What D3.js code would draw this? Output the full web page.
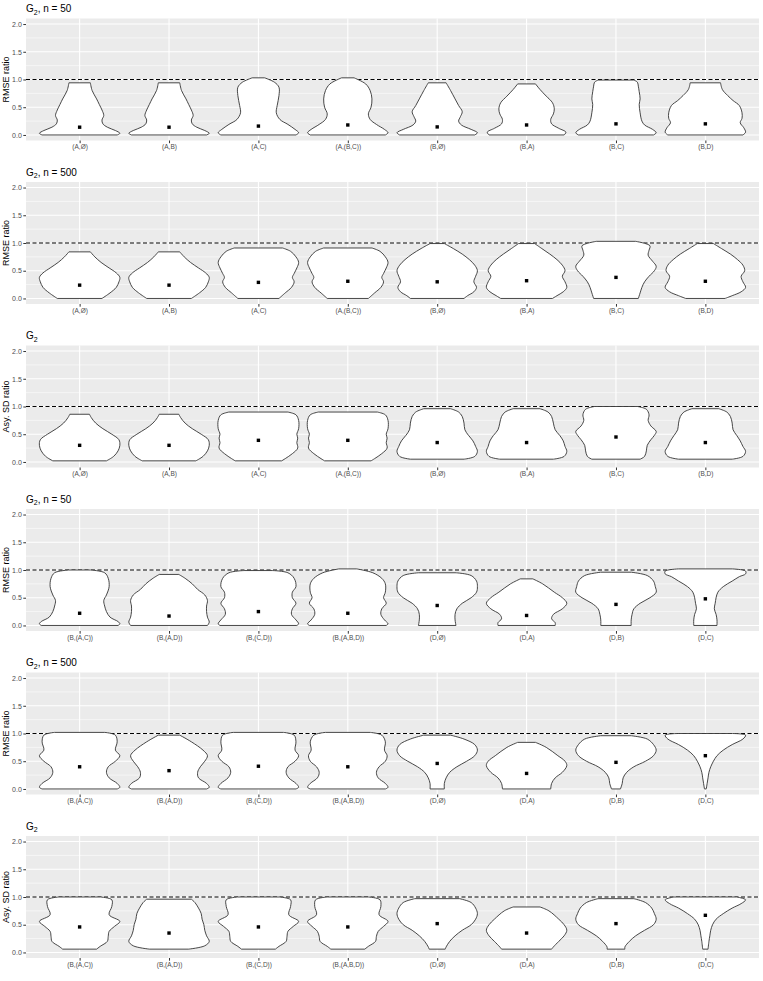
<!DOCTYPE html>
<meta charset="utf-8">
<style>
body { margin: 0; background: #fff; }
svg { font-family: "Liberation Sans", Arial, sans-serif; }
.axis path.domain { display: none; }
.axis line { stroke: #333333; }
.axis text { fill: #4d4d4d; }
.violin { fill: #fff; stroke: #333333; stroke-width: 0.9; }
</style>
<body>
<script src="https://cdn.jsdelivr.net/npm/d3@7"></script>
<script>
// categories on the two x axes
var catsA = ["(A,Ø)", "(A,B)", "(A,C)", "(A,(B,C))", "(B,Ø)", "(B,A)", "(B,C)", "(B,D)"];
var catsB = ["(B,(A,C))", "(B,(A,D))", "(B,(C,D))", "(B,(A,B,D))", "(D,Ø)", "(D,A)", "(D,B)", "(D,C)"];

// panel titles (subscript handled separately) and y titles
var titleRest = [", n = 50", ", n = 500", "", ", n = 50", ", n = 500", ""];
var yTitles = ["RMSE ratio", "RMSE ratio", "Asy. SD ratio", "RMSE ratio", "RMSE ratio", "Asy. SD ratio"];
var yTicks = [0, 0.5, 1, 1.5, 2];

// violin outlines: [value, half width in category units], one list per category
var shapes1 = [
  [[0,.42],[.03,.45],[.08,.40],[.14,.31],[.2,.26],[.27,.25],[.35,.27],[.45,.25],[.55,.22],[.65,.19],[.8,.14],[.94,.12]],
  [[0,.42],[.03,.45],[.08,.40],[.14,.31],[.2,.26],[.27,.25],[.35,.27],[.45,.25],[.55,.22],[.65,.19],[.8,.14],[.94,.12]],
  [[0,.42],[.04,.45],[.1,.41],[.19,.33],[.28,.24],[.4,.2],[.53,.21],[.71,.23],[.86,.23],[.95,.18],[1.03,.07]],
  [[0,.42],[.04,.45],[.1,.41],[.19,.32],[.28,.25],[.38,.23],[.5,.26],[.65,.27],[.8,.25],[.92,.2],[1.03,.07]],
  [[0,.42],[.04,.45],[.1,.38],[.18,.27],[.25,.24],[.33,.26],[.42,.28],[.53,.24],[.65,.2],[.8,.15],[.94,.1]],
  [[0,.42],[.05,.44],[.12,.36],[.2,.28],[.28,.27],[.38,.3],[.47,.31],[.58,.29],[.7,.22],[.82,.15],[.92,.1]],
  [[0,.42],[.04,.45],[.1,.41],[.18,.32],[.25,.29],[.4,.27],[.55,.26],[.65,.27],[.78,.26],[.88,.25],[.95,.24],[.99,.2]],
  [[0,.42],[.05,.45],[.13,.43],[.22,.39],[.3,.41],[.4,.41],[.53,.38],[.62,.31],[.71,.25],[.82,.19],[.94,.17]]
];
var means1 = [.14, .14, .16, .18, .145, .18, .2, .2];

var shapes2 = [
  [[0,.25],[.1,.34],[.2,.41],[.3,.44],[.38,.45],[.46,.41],[.55,.33],[.65,.24],[.75,.17],[.84,.12]],
  [[0,.25],[.1,.34],[.2,.41],[.3,.44],[.38,.45],[.46,.41],[.55,.33],[.65,.24],[.75,.17],[.84,.12]],
  [[0,.23],[.1,.3],[.2,.37],[.3,.4],[.38,.38],[.45,.4],[.55,.43],[.65,.45],[.75,.42],[.85,.36],[.91,.27]],
  [[0,.23],[.1,.3],[.2,.37],[.3,.4],[.38,.38],[.45,.4],[.55,.43],[.65,.45],[.75,.42],[.85,.36],[.91,.27]],
  [[0,.3],[.05,.34],[.12,.41],[.2,.44],[.3,.41],[.4,.43],[.5,.45],[.6,.42],[.7,.36],[.8,.28],[.9,.18],[.99,.08]],
  [[0,.29],[.05,.34],[.12,.41],[.2,.45],[.3,.43],[.4,.4],[.5,.43],[.6,.4],[.7,.34],[.8,.26],[.9,.17],[.99,.09]],
  [[0,.25],[.1,.27],[.2,.29],[.3,.32],[.4,.37],[.5,.43],[.58,.45],[.67,.41],[.78,.36],[.87,.37],[.95,.38],[1.03,.22]],
  [[0,.22],[.05,.3],[.12,.4],[.2,.45],[.3,.42],[.4,.4],[.5,.44],[.6,.42],[.7,.36],[.8,.28],[.9,.18],[.99,.09]]
];
var means2 = [.24, .24, .29, .31, .3, .32, .38, .31];

var shapes3 = [
  [[.02,.3],[.1,.38],[.2,.43],[.3,.45],[.4,.44],[.5,.36],[.6,.26],[.7,.18],[.8,.13],[.86,.11]],
  [[.02,.3],[.1,.38],[.2,.43],[.3,.45],[.4,.44],[.5,.36],[.6,.26],[.7,.18],[.8,.13],[.86,.11]],
  [[.02,.26],[.06,.3],[.15,.38],[.25,.44],[.35,.43],[.43,.44],[.5,.43],[.6,.45],[.75,.45],[.85,.42],[.9,.33]],
  [[.02,.26],[.06,.3],[.15,.38],[.25,.44],[.35,.43],[.43,.44],[.5,.43],[.6,.45],[.75,.45],[.85,.42],[.9,.33]],
  [[.05,.3],[.1,.42],[.19,.45],[.28,.43],[.38,.4],[.48,.35],[.58,.31],[.7,.3],[.82,.28],[.9,.24],[.96,.15]],
  [[.05,.3],[.1,.42],[.19,.45],[.28,.43],[.38,.41],[.48,.37],[.58,.32],[.7,.3],[.82,.28],[.9,.24],[.96,.15]],
  [[.05,.27],[.1,.32],[.2,.34],[.3,.35],[.4,.39],[.48,.43],[.55,.45],[.65,.39],[.75,.36],[.85,.37],[.95,.34],[1.0,.24]],
  [[.05,.3],[.1,.42],[.19,.45],[.28,.42],[.38,.39],[.48,.35],[.58,.31],[.7,.3],[.82,.28],[.9,.24],[.96,.15]]
];
var means3 = [.3, .3, .39, .39, .35, .35, .45, .35];

var shapes4 = [
  [[0,.43],[.03,.45],[.07,.43],[.15,.34],[.25,.3],[.35,.28],[.45,.27],[.55,.3],[.7,.33],[.85,.32],[.95,.28],[1.0,.12]],
  [[0,.43],[.06,.45],[.15,.43],[.25,.42],[.35,.42],[.45,.43],[.55,.4],[.65,.32],[.75,.26],[.85,.18],[.92,.11]],
  [[0,.43],[.03,.45],[.1,.42],[.2,.37],[.3,.38],[.4,.42],[.5,.38],[.6,.38],[.7,.42],[.85,.4],[.95,.33],[.99,.16]],
  [[0,.43],[.03,.45],[.1,.41],[.2,.37],[.3,.38],[.4,.43],[.5,.4],[.6,.42],[.75,.42],[.85,.38],[.95,.28],[1.02,.1]],
  [[0,.21],[.1,.2],[.2,.2],[.3,.22],[.4,.28],[.5,.38],[.6,.44],[.7,.45],[.8,.44],[.9,.38],[.95,.21]],
  [[0,.32],[.05,.32],[.12,.28],[.2,.3],[.3,.4],[.4,.45],[.5,.4],[.6,.31],[.75,.18],[.84,.07]],
  [[0,.17],[.1,.17],[.2,.18],[.3,.2],[.4,.27],[.5,.38],[.6,.45],[.7,.44],[.8,.42],[.9,.35],[.96,.17]],
  [[0,.13],[.1,.13],[.2,.12],[.3,.1],[.4,.11],[.5,.12],[.6,.14],[.7,.2],[.8,.3],[.88,.38],[.93,.45],[.98,.45],[1.02,.3]]
];
var means4 = [.22, .17, .25, .22, .36, .18, .38, .48];

var shapes5 = [
  [[0,.42],[.03,.45],[.1,.42],[.2,.33],[.3,.3],[.4,.32],[.5,.4],[.6,.45],[.7,.4],[.85,.42],[.97,.4],[1.02,.28]],
  [[0,.42],[.03,.45],[.1,.42],[.2,.33],[.3,.32],[.4,.35],[.5,.4],[.6,.43],[.7,.38],[.85,.25],[.97,.12]],
  [[0,.42],[.03,.45],[.1,.42],[.2,.34],[.3,.31],[.4,.33],[.5,.41],[.6,.45],[.7,.41],[.85,.42],[.97,.4],[1.02,.28]],
  [[0,.42],[.03,.45],[.1,.42],[.2,.34],[.3,.32],[.4,.35],[.5,.42],[.6,.44],[.7,.41],[.85,.42],[.97,.38],[1.02,.25]],
  [[0,.08],[.1,.08],[.2,.1],[.3,.14],[.4,.22],[.5,.33],[.6,.42],[.7,.45],[.8,.42],[.9,.3],[.97,.15]],
  [[0,.27],[.1,.28],[.2,.32],[.3,.4],[.42,.45],[.5,.43],[.6,.35],[.75,.22],[.84,.1]],
  [[0,.05],[.1,.07],[.2,.08],[.3,.12],[.4,.2],[.5,.33],[.6,.42],[.7,.45],[.8,.42],[.9,.35],[.96,.17]],
  [[0,.01],[.1,.02],[.2,.03],[.3,.04],[.4,.06],[.5,.09],[.6,.13],[.7,.2],[.8,.3],[.9,.42],[.97,.45],[1.0,.3]]
];
var means5 = [.4, .33, .41, .4, .46, .28, .48, .6];

var shapes6 = [
  [[.06,.19],[.11,.23],[.2,.31],[.29,.32],[.38,.33],[.47,.39],[.56,.45],[.68,.33],[.83,.36],[.95,.36],[1.0,.23]],
  [[.06,.22],[.12,.4],[.2,.45],[.3,.42],[.4,.4],[.5,.39],[.6,.37],[.7,.36],[.8,.33],[.9,.29],[.96,.25]],
  [[.06,.19],[.11,.23],[.2,.31],[.29,.32],[.38,.33],[.47,.39],[.56,.45],[.68,.34],[.83,.36],[.95,.36],[1.0,.23]],
  [[.06,.19],[.11,.23],[.2,.31],[.29,.32],[.38,.34],[.47,.4],[.56,.45],[.68,.35],[.83,.37],[.95,.36],[1.0,.23]],
  [[.06,.09],[.1,.1],[.2,.14],[.3,.2],[.4,.28],[.5,.38],[.6,.43],[.7,.45],[.8,.43],[.9,.38],[.97,.25]],
  [[.06,.28],[.1,.3],[.2,.36],[.3,.42],[.4,.45],[.5,.42],[.6,.36],[.75,.25],[.82,.15]],
  [[.06,.1],[.1,.1],[.2,.15],[.3,.22],[.4,.32],[.5,.42],[.6,.45],[.7,.43],[.8,.4],[.9,.33],[.97,.2]],
  [[.06,.03],[.2,.04],[.3,.05],[.4,.06],[.5,.08],[.6,.12],[.7,.2],[.8,.3],[.88,.4],[.95,.45],[1.0,.35]]
];
var means6 = [.46, .35, .46, .46, .52, .35, .52, .67];

var panels = [
  {cats: catsA, shapes: shapes1, means: means1},
  {cats: catsA, shapes: shapes2, means: means2},
  {cats: catsA, shapes: shapes3, means: means3},
  {cats: catsB, shapes: shapes4, means: means4},
  {cats: catsB, shapes: shapes5, means: means5},
  {cats: catsB, shapes: shapes6, means: means6}
];

var W = 763, H = 981, panelH = 163.5;
var plotL = 26, plotR = 759, plotT = 18.5, plotB = 140.5;

var svg = d3.select("body").append("svg")
    .attr("width", W)
    .attr("height", H);

panels.forEach(function(p, i) {
  var g = svg.append("g").attr("transform", "translate(0," + (i * panelH) + ")");

  var x = d3.scalePoint().domain(p.cats).range([plotL, plotR]).padding(0.6);
  var y = d3.scaleLinear().domain([-0.1, 2.1]).range([plotB, plotT]);
  var w = d3.scaleLinear().domain([0, 1]).range([0, x.step()]);

  // panel background
  g.append("rect")
      .attr("x", plotL).attr("y", plotT)
      .attr("width", plotR - plotL).attr("height", plotB - plotT)
      .attr("fill", "#ebebeb");

  // minor grid
  g.selectAll(".minor").data([0.25, 0.75, 1.25, 1.75]).enter().append("line")
      .attr("x1", plotL).attr("x2", plotR)
      .attr("y1", function(d) { return y(d); }).attr("y2", function(d) { return y(d); })
      .attr("stroke", "#fff").attr("stroke-width", 0.55);
  // major grid
  g.selectAll(".major").data(yTicks).enter().append("line")
      .attr("x1", plotL).attr("x2", plotR)
      .attr("y1", function(d) { return y(d); }).attr("y2", function(d) { return y(d); })
      .attr("stroke", "#fff").attr("stroke-width", 1.1);
  g.selectAll(".vmajor").data(p.cats).enter().append("line")
      .attr("x1", function(d) { return x(d); }).attr("x2", function(d) { return x(d); })
      .attr("y1", plotT).attr("y2", plotB)
      .attr("stroke", "#fff").attr("stroke-width", 1.1);

  // dashed reference at 1
  g.append("line")
      .attr("x1", plotL).attr("x2", plotR)
      .attr("y1", y(1)).attr("y2", y(1))
      .attr("stroke", "#000").attr("stroke-width", 1)
      .attr("stroke-dasharray", "4,2.5");

  // violins
  p.cats.forEach(function(c, j) {
    var area = d3.area()
        .y(function(d) { return y(d[0]); })
        .x0(function(d) { return x(c) - w(d[1]); })
        .x1(function(d) { return x(c) + w(d[1]); })
        .curve(d3.curveCatmullRom.alpha(0.5));
    g.append("path")
        .attr("class", "violin")
        .attr("d", area(p.shapes[j]));
    g.append("rect")
        .attr("x", x(c) - 1.7).attr("y", y(p.means[j]) - 1.7)
        .attr("width", 3.4).attr("height", 3.4)
        .attr("fill", "#000");
  });

  // axes
  var ya = g.append("g").attr("class", "axis")
      .attr("transform", "translate(" + plotL + ",0)")
      .call(d3.axisLeft(y).tickValues(yTicks).tickFormat(d3.format(".1f")).tickSize(2.7).tickPadding(1.5));
  ya.selectAll("text").attr("font-size", 7);

  var xa = g.append("g").attr("class", "axis")
      .attr("transform", "translate(0," + plotB + ")")
      .call(d3.axisBottom(x).tickSize(2.7).tickPadding(1.5));
  xa.selectAll("text").attr("font-size", 6.5);

  // y title
  g.append("text")
      .attr("transform", "translate(9," + ((plotT + plotB) / 2) + ") rotate(-90)")
      .attr("text-anchor", "middle")
      .attr("font-size", 9)
      .attr("fill", "#000")
      .text(yTitles[i]);

  // title
  var t = g.append("text")
      .attr("x", plotL).attr("y", 12)
      .attr("font-size", 10)
      .attr("fill", "#000");
  t.append("tspan").text("G");
  t.append("tspan").attr("font-size", 7).attr("dy", 2.5).text("2");
  t.append("tspan").attr("dy", -2.5).text(titleRest[i]);
});
</script>
</body>
